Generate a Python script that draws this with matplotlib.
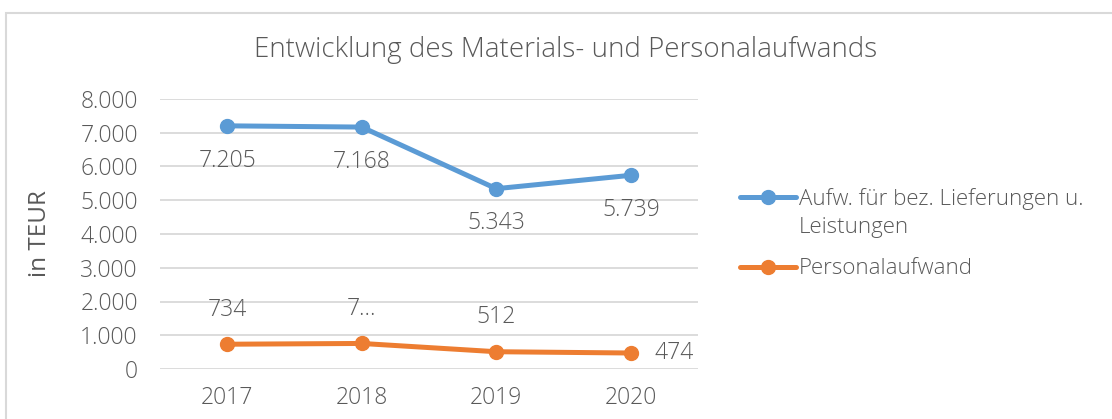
import matplotlib.pyplot as plt
from matplotlib.patches import Rectangle

jahre = ['2017', '2018', '2019', '2020']
material = [7205, 7168, 5343, 5739]
personal = [734, 757, 512, 474]
material_labels = ['7.205', '7.168', '5.343', '5.739']
personal_labels = ['734', '7…', '512', '474']
yticks = [0, 1000, 2000, 3000, 4000, 5000, 6000, 7000, 8000]
ytick_labels = ['0', '1.000', '2.000', '3.000', '4.000', '5.000', '6.000', '7.000', '8.000']

blau = '#5B9BD5'
orange = '#ED7D31'
grau = '#595959'

plt.rcParams['font.family'] = ['Open Sans', 'DejaVu Sans']
plt.rcParams['font.weight'] = 'light'

fig = plt.figure(figsize=(11.12, 4.19), dpi=100)
fig.patches.append(Rectangle((6 / 1112, -0.1), 1.2, 1 - 13 / 419 + 0.1, transform=fig.transFigure,
                             fill=False, edgecolor='#D9D9D9', linewidth=1.5))

ax = fig.add_axes([160 / 1112, 1 - 369 / 419, 538 / 1112, 270 / 419])
x = list(range(len(jahre)))

l1, = ax.plot(x, material, color=blau, linewidth=3.6, marker='o', markersize=10,
              solid_capstyle='round')
l2, = ax.plot(x, personal, color=orange, linewidth=3.6, marker='o', markersize=10,
              solid_capstyle='round')

for i, (v, t) in enumerate(zip(material, material_labels)):
    ax.annotate(t, (i, v), xytext=(0, -25), textcoords='offset points',
                ha='center', va='center', fontsize=16.5, color=grau)
for i, (v, t) in enumerate(zip(personal, personal_labels)):
    if i == 3:
        ax.annotate(t, (i, v), xytext=(31, 0), textcoords='offset points',
                    ha='center', va='center', fontsize=16.5, color=grau)
    else:
        ax.annotate(t, (i, v), xytext=(0, 25), textcoords='offset points',
                    ha='center', va='center', fontsize=16.5, color=grau)

ax.set_xlim(-0.5, 3.5)
ax.set_ylim(0, 8000)
ax.set_xticks(x)
ax.set_xticklabels(jahre)
ax.set_yticks(yticks)
ax.set_yticklabels(ytick_labels)
ax.tick_params(length=0, labelsize=16.5, labelcolor=grau, pad=16)
ax.tick_params(axis='x', pad=12)
ax.grid(axis='y', color='#D9D9D9', linewidth=1.3)
ax.set_axisbelow(True)
for s in ax.spines.values():
    s.set_visible(False)
ax.set_ylabel('in TEUR', fontsize=17.5, color=grau, labelpad=20)

fig.text(566 / 1112, 1 - 50 / 419, 'Entwicklung des Materials- und Personalaufwands',
         ha='center', va='center', fontsize=20, color=grau)

# Legende: zweizeiliger Eintrag, Marker auf Höhe der ersten Zeile
leg_kw = dict(frameon=False, fontsize=16, labelcolor=grau, handlelength=2.5, handletextpad=0.15,
              borderaxespad=0, borderpad=0, loc='center left', bbox_transform=fig.transFigure)
leg1 = ax.legend([l1], ['Aufw. für bez. Lieferungen u.'], bbox_to_anchor=(740 / 1112, 1 - 199 / 419), **leg_kw)
ax.add_artist(leg1)
fig.text(799 / 1112, 1 - 227 / 419, 'Leistungen', ha='left', va='center', fontsize=16, color=grau)
ax.legend([l2], ['Personalaufwand'], bbox_to_anchor=(740 / 1112, 1 - 269 / 419), **leg_kw)

fig.savefig('out.png', dpi=100)
